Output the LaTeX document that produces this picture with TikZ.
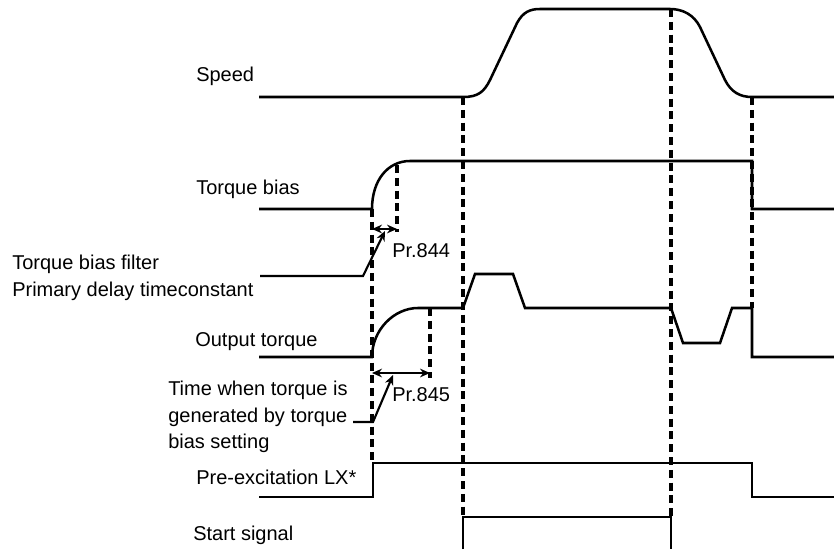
\documentclass[tikz,border=0pt]{standalone}
\usepackage{fontspec}
\setmainfont{Liberation Sans}
\usetikzlibrary{arrows.meta}

\begin{document}
\begin{tikzpicture}[
    x=0.75pt, y=-0.75pt,
    sig/.style={line width=1.9pt},
    thinsig/.style={line width=1.3pt},
    guide/.style={line width=2.4pt, dash pattern=on 6pt off 3.6pt},
    dimarr/.style={{Stealth[length=7.5pt,width=6.5pt]}-{Stealth[length=7.5pt,width=6.5pt]}, line width=1.9pt},
    arr/.style={-{Stealth[length=7.5pt,width=6.5pt]}, line width=1.6pt},
    lbl/.style={font=\fontsize{15}{20}\selectfont, inner sep=0pt, anchor=base west},
    blk/.style={font=\fontsize{15}{20}\selectfont, inner sep=0pt, anchor=west, align=left},
  ]
  \useasboundingbox (0,0) rectangle (834,549);

  % signal names
  \node[lbl] (speed) at (196,82) {Speed};
  \node[lbl] (tbias) at (196,194) {Torque bias};
  \node[blk] (filter) at (12,278) {Torque bias filter\\Primary delay timeconstant};
  \node[lbl] (otorque) at (195,346) {Output torque};
  \node[blk] (gentime) at (168,417) {Time when torque is\\generated by torque\\bias setting};
  \node[lbl] (lx) at (196,484) {Pre-excitation LX*};
  \node[lbl] (start) at (193,540) {Start signal};
  \node[lbl] (pr844) at (392,257) {Pr.844};
  \node[lbl] (pr845) at (392,401) {Pr.845};

  % timing guides
  \draw[guide] (372,209) -- (372,463);
  \draw[guide] (397,165) -- (397,232);
  \draw[guide] (430,308) -- (430,378);
  \draw[guide] (463,97) -- (463,517);
  \draw[guide] (671,9) -- (671,517);
  \draw[guide] (752,97) -- (752,308);

  % speed
  \draw[sig] (259,97) -- (463,97) .. controls (478,97) and (484,92) .. (490,80)
    -- (517,23) .. controls (523,12) and (530,9) .. (540,9) -- (670,9)
    .. controls (683,9) and (694,15) .. (700,27) -- (725,80)
    .. controls (731,92) and (740,97) .. (752,97) -- (834,97);

  % torque bias
  \draw[sig] (259,209) -- (372,209) .. controls (372,180) and (388,161) .. (410,161)
    -- (752,161) -- (752,209) -- (834,209);

  % output torque
  \draw[sig] (259,357) -- (372,357) .. controls (372,330) and (394,308) .. (418,308)
    -- (463,308) -- (475,274) -- (513,274) -- (525,308) -- (671,308)
    -- (683,343) -- (720,343) -- (732,308) -- (752,308) -- (752,357) -- (834,357);

  % pre-excitation LX
  \draw[sig] (259,497) -- (373,497) -- (373,463) -- (752,463) -- (752,497) -- (834,497);

  % start signal
  \draw[thinsig] (463,549) -- (463,517) -- (671,517) -- (671,549);

  % time constants
  \draw[dimarr] (372,229) -- (397,229);
  \draw[dimarr] (372,373) -- (430,373);
  \coordinate (p844) at (385,231);
  \coordinate (p845) at (393,375);
  \draw[arr] (260,276) -- (363,276) -- (p844);
  \draw[arr] (353,422) -- (373,422) -- (p845);
\end{tikzpicture}
\end{document}
